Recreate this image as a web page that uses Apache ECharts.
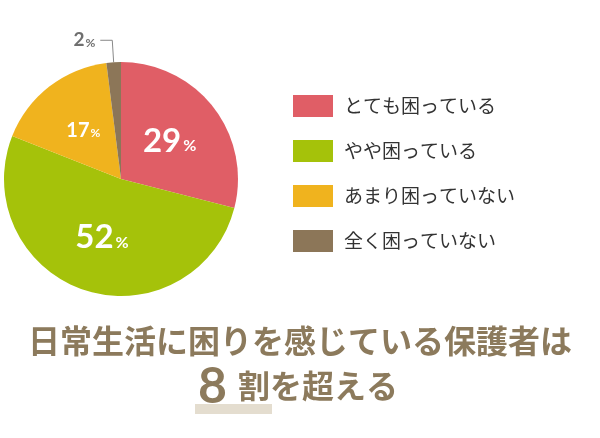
<!DOCTYPE html>
<html>
<head>
<meta charset="utf-8">
<script src="https://cdn.jsdelivr.net/npm/echarts@6/dist/echarts.min.js"></script>
<style>html,body{margin:0;background:#fff}#c{width:600px;height:438px}</style>
</head>
<body>
<div id="c"></div>
<script>
const names = ['とても困っている', 'やや困っている', 'あまり困っていない', '全く困っていない'];
const values = [29, 52, 17, 2];
const colors = ['#E05E66', '#A5C20A', '#F0B31E', '#8C7658'];

const chart = echarts.init(document.getElementById('c'));
const font = '"Noto Sans CJK JP", sans-serif';
const brown = '#8C7A5C';

chart.setOption({
  animation: false,
  color: colors,
  legend: {
    orient: 'vertical', left: 288, top: 90, itemWidth: 40, itemHeight: 22, itemGap: 23,
    icon: 'rect',
    textStyle: { fontSize: 19, color: '#333', fontFamily: font, padding: [0, 0, 0, 6] },
    data: names
  },
  series: [{
    type: 'pie',
    center: [121, 179],
    radius: [0, 117],
    startAngle: 90,
    clockwise: true,
    label: {
      position: 'inside',
      formatter: p => '{n|' + p.value + '}{p|%}',
      rich: {
        n: { fontSize: 33, fontWeight: 'bold', color: '#fff', fontFamily: 'Lato' },
        p: { fontSize: 16, fontWeight: 'bold', color: '#fff', fontFamily: 'Lato', padding: [10, 0, 0, 2] }
      }
    },
    data: values.map((v, i) => {
      const d = { name: names[i], value: v };
      if (i === 2) d.label = { rich: { n: { fontSize: 20 }, p: { fontSize: 12, padding: [5, 0, 0, 1] } } };
      if (i === 3) {
        d.label = {
          position: 'outside',
          rich: {
            n: { fontSize: 19, color: '#6f6f6f' },
            p: { fontSize: 12, color: '#6f6f6f', padding: [5, 0, 0, 1] }
          }
        };
        d.labelLine = { show: true, length: 22, length2: 12, lineStyle: { color: '#888', width: 1 } };
      }
      return d;
    })
  }],
  graphic: [
    { type: 'text', left: 'center', top: 325, style: { text: '日常生活に困りを感じている保護者は', fontSize: 32, fontWeight: 'bold', fill: brown, fontFamily: font } },
    { type: 'rect', shape: { x: 195, y: 404, width: 77, height: 10 }, style: { fill: '#E4DDCF' } },
    { type: 'text', x: 198, y: 362, style: { text: '8', fontSize: 50, fontWeight: 'bold', fill: brown, fontFamily: 'Lato' } },
    { type: 'text', x: 238, y: 370, style: { text: '割を超える', fontSize: 32, fontWeight: 'bold', fill: brown, fontFamily: font } }
  ]
});
</script>
</body>
</html>
